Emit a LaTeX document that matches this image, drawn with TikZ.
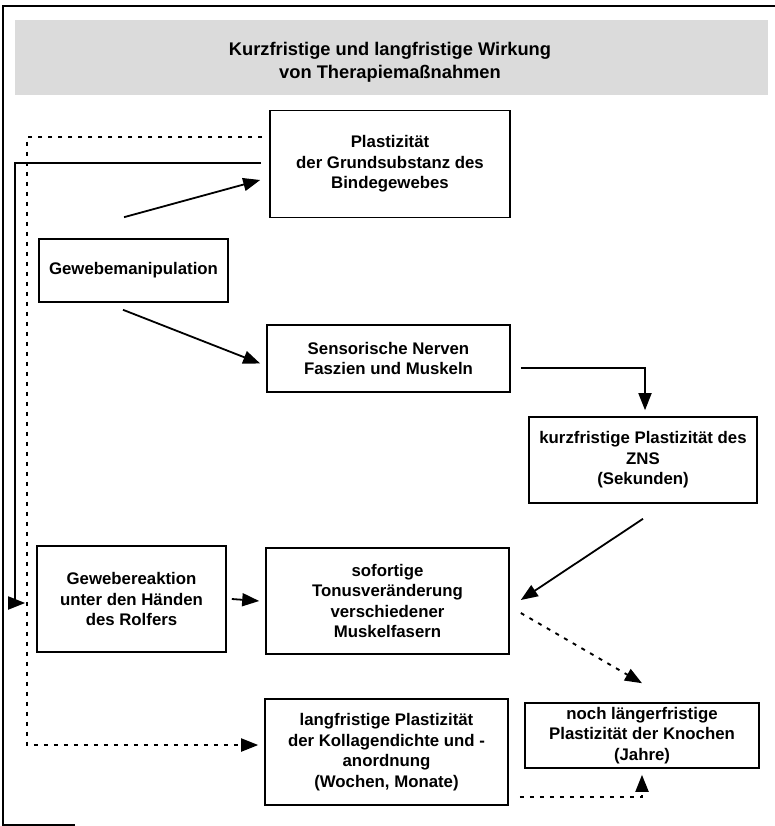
\documentclass[tikz,border=0pt]{standalone}
\usepackage{fontspec}
\setmainfont{Liberation Sans}
\usetikzlibrary{arrows.meta,calc}
\begin{document}
\begin{tikzpicture}[x=1pt,y=-1pt,
  box/.style={draw=black,line width=1.6pt,fill=white,align=center,inner sep=2pt,
    font=\bfseries\fontsize{16.8}{20.5}\selectfont},
  arr/.style={line width=1.8pt,-{Triangle[length=17pt,width=13pt]}},
  dotarr/.style={line width=1.9pt,dash pattern=on 4pt off 6pt,-{Triangle[length=17pt,width=13pt]}},
  frameline/.style={line width=1.8pt}]
\useasboundingbox (0,0) rectangle (775,826);
% outer frame
\draw[frameline] (75,825) -- (3,825) -- (3,6) -- (775,6);
% title band
\fill[gray!28] (15,20) rectangle (768,95);
\node[align=center,font=\bfseries\fontsize{18.3}{23}\selectfont] (title) at (390,62)
  {Kurzfristige und langfristige Wirkung\\von Therapiemaßnahmen};
% boxes
\node[box,minimum width=240pt,minimum height=107pt] (plast) at (390,164)
  {Plastizität\\der Grundsubstanz des\\Bindegewebes};
\node[box,minimum width=189pt,minimum height=63pt] (manip) at (133.5,270.5)
  {Gewebemanipulation};
\node[box,minimum width=243pt,minimum height=67pt] (sens) at (388.5,358.5)
  {Sensorische Nerven\\Faszien und Muskeln};
\node[box,minimum width=228pt,minimum height=86pt] (zns) at (643,460)
  {kurzfristige Plastizität des\\ZNS\\(Sekunden)};
\node[box,minimum width=189pt,minimum height=106pt] (reakt) at (131.5,599)
  {Gewebereaktion\\unter den Händen\\des Rolfers};
\node[box,minimum width=243pt,minimum height=106pt] (tonus) at (387.5,601)
  {sofortige\\Tonusveränderung\\verschiedener\\Muskelfasern};
\node[box,minimum width=243pt,minimum height=106pt] (lang) at (386.5,752)
  {langfristige Plastizität\\der Kollagendichte und -\\anordnung\\(Wochen, Monate)};
\node[box,minimum width=234pt,minimum height=65pt] (knoch) at (642,735.5)
  {noch längerfristige\\Plastizität der Knochen\\(Jahre)};
% corner coordinates of the feedback loops
\coordinate (solidL) at (15,603);
\coordinate (dotL) at (27,745);
% connectors
\draw[arr] ([shift={(-9.5pt,21pt)}]manip.north) -- ([shift={(-9pt,-16pt)}]plast.west);
\draw[arr] ([shift={(-10.5pt,-7pt)}]manip.south) -- ([shift={(-6pt,-5pt)}]sens.west);
\draw[arr] ([shift={(10pt,-9.5pt)}]sens.east) -| ([shift={(2pt,6pt)}]zns.north);
\draw[arr] ([shift={(0pt,-15pt)}]zns.south) -- ([shift={(11pt,1pt)}]tonus.east);
\draw[dotarr] ([shift={(11pt,-12pt)}]tonus.east) -- ([shift={(0pt,19pt)}]knoch.north);
\draw[dotarr] ([shift={(11pt,-45pt)}]lang.east) -| ([shift={(0pt,-6pt)}]knoch.south);
\draw[arr] ([xshift=5pt]reakt.east) -- ([xshift=-6pt]tonus.west);
\draw[arr] ([shift={(-8pt,1pt)}]plast.west) -| (solidL) -- ([shift={(-11pt,-4pt)}]reakt.west);
\draw[dotarr] ([shift={(-7pt,27pt)}]plast.west) -| (dotL) -- ([shift={(-6pt,7pt)}]lang.west);
\end{tikzpicture}
\end{document}
